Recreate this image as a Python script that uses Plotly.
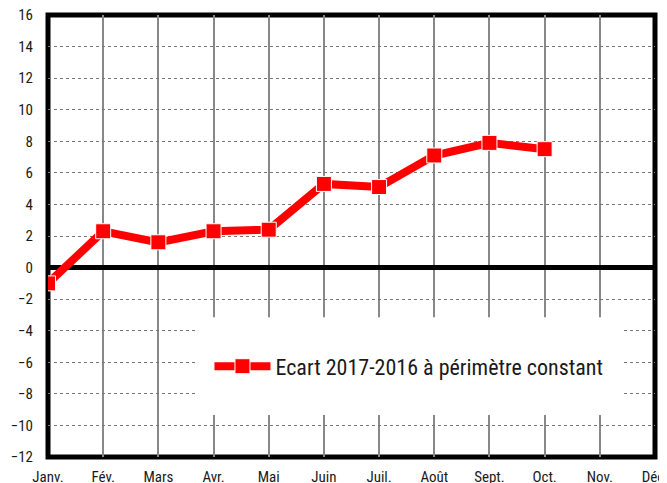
import plotly.graph_objects as go

months = ["Janv.", "Fév.", "Mars", "Avr.", "Mai", "Juin", "Juil.", "Août", "Sept.", "Oct.", "Nov.", "Déc."]
ecart = [-1.0, 2.3, 1.6, 2.3, 2.4, 5.3, 5.1, 7.1, 7.9, 7.5, None, None]
series_name = "Ecart 2017-2016 à périmètre constant"
y_ticks = list(range(-12, 17, 2))

FONT = "Roboto Condensed, Arial Narrow, Liberation Sans, Arial, sans-serif"

fig = go.Figure()
fig.add_trace(go.Scatter(
    x=list(range(len(months))), y=ecart, name=series_name,
    mode="lines+markers",
    line=dict(color="#ff0000", width=8),
    marker=dict(symbol="square", size=15, color="#ff0000", line=dict(color="white", width=1)),
    connectgaps=False,
))

# the page body has an 8px margin, so the margins below are offset by 8px
fig.update_layout(
    width=667, height=483,
    margin=dict(l=40, r=20, t=7, b=34, autoexpand=False),
    paper_bgcolor="white", plot_bgcolor="white",
    font=dict(family=FONT, size=15, color="#1a1a1a"),
    showlegend=True,
    legend=dict(x=0.266, y=0.205, xanchor="left", yanchor="middle",
                bgcolor="rgba(0,0,0,0)", font=dict(size=22, family=FONT),
                itemwidth=56),
    shapes=[
        dict(type="rect", xref="paper", yref="paper", x0=0.243, x1=0.946, y0=0.095, y1=0.316,
             fillcolor="white", line=dict(width=0), layer="above"),
        dict(type="rect", xref="paper", yref="paper", x0=0, x1=1, y0=0, y1=1,
             fillcolor="rgba(0,0,0,0)", line=dict(color="black", width=5), layer="below"),
    ],
)

fig.update_xaxes(
    range=[0, 11], tickmode="array", tickvals=list(range(len(months))), ticktext=months,
    showgrid=True, gridcolor="#888888", gridwidth=1.5,
    showline=False,
    ticks="", zeroline=False, tickfont=dict(size=15), automargin=False,
    ticklabeloverflow="allow", ticklabelstandoff=9,
)
fig.update_yaxes(
    range=[-12, 16], tickmode="array", tickvals=y_ticks,
    showgrid=True, gridcolor="#777777", gridwidth=1, griddash="dot",
    showline=False,
    zeroline=True, zerolinecolor="black", zerolinewidth=5,
    ticks="", ticklabelstandoff=14, tickfont=dict(size=15), automargin=False,
    ticklabeloverflow="allow",
)

fig.write_html("out.html")
